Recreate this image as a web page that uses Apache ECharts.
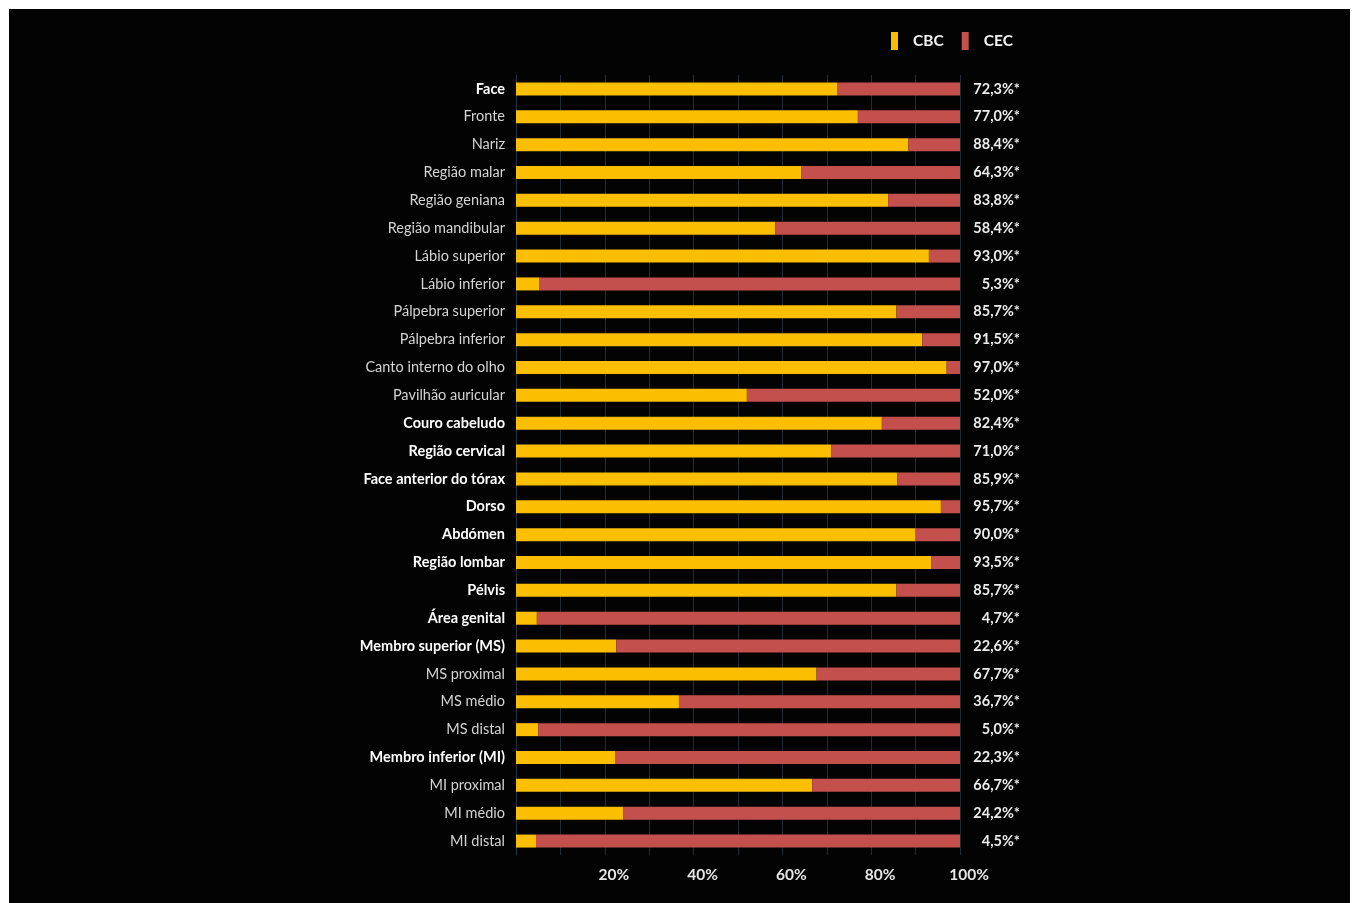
<!DOCTYPE html>
<html>
<head>
<meta charset="utf-8">
<script src="https://cdn.jsdelivr.net/npm/echarts@6/dist/echarts.min.js"></script>
<style>
  html, body { margin: 0; padding: 0; background: #fff; }
  #chart { width: 1360px; height: 903px; }
</style>
</head>
<body>
<div id="chart"></div>
<script>
const regions = [
  'Face', 'Fronte', 'Nariz', 'Região malar', 'Região geniana', 'Região mandibular',
  'Lábio superior', 'Lábio inferior', 'Pálpebra superior', 'Pálpebra inferior',
  'Canto interno do olho', 'Pavilhão auricular', 'Couro cabeludo', 'Região cervical',
  'Face anterior do tórax', 'Dorso', 'Abdómen', 'Região lombar', 'Pélvis', 'Área genital',
  'Membro superior (MS)', 'MS proximal', 'MS médio', 'MS distal',
  'Membro inferior (MI)', 'MI proximal', 'MI médio', 'MI distal'
];
// rows written in bold in the original
const boldRegions = [
  'Face', 'Couro cabeludo', 'Região cervical', 'Face anterior do tórax', 'Dorso',
  'Abdómen', 'Região lombar', 'Pélvis', 'Área genital',
  'Membro superior (MS)', 'Membro inferior (MI)'
];
const cbc = [72.3, 77.0, 88.4, 64.3, 83.8, 58.4, 93.0, 5.3, 85.7, 91.5, 97.0, 52.0, 82.4, 71.0,
  85.9, 95.7, 90.0, 93.5, 85.7, 4.7, 22.6, 67.7, 36.7, 5.0, 22.3, 66.7, 24.2, 4.5];
const cec = [27.7, 23.0, 11.6, 35.7, 16.2, 41.6, 7.0, 94.7, 14.3, 8.5, 3.0, 48.0, 17.6, 29.0,
  14.1, 4.3, 10.0, 6.5, 14.3, 95.3, 77.4, 32.3, 63.3, 95.0, 77.7, 33.3, 75.8, 95.5];
const cbcLabels = ['72,3%*', '77,0%*', '88,4%*', '64,3%*', '83,8%*', '58,4%*', '93,0%*', '5,3%*',
  '85,7%*', '91,5%*', '97,0%*', '52,0%*', '82,4%*', '71,0%*', '85,9%*', '95,7%*', '90,0%*',
  '93,5%*', '85,7%*', '4,7%*', '22,6%*', '67,7%*', '36,7%*', '5,0%*', '22,3%*', '66,7%*',
  '24,2%*', '4,5%*'];
const xTicks = [20, 40, 60, 80, 100];

const FONT = 'Lato, "Open Sans", sans-serif';

const chart = echarts.init(document.getElementById('chart'), null, { renderer: 'canvas' });

const option = {
  backgroundColor: '#ffffff',
  animation: false,
  graphic: [{
    type: 'rect',
    z: -10,
    shape: { x: 9, y: 9, width: 1341, height: 894 },
    style: { fill: '#030303' }
  }],
  legend: {
    left: 886,
    top: 27,
    itemWidth: 7,
    itemHeight: 18,
    itemGap: 18,
    icon: 'rect',
    textStyle: {
      color: '#f2f2f2', fontFamily: FONT, fontWeight: 'bold', fontSize: 15.5,
      padding: [0, 0, 0, 10]
    },
    data: ['CBC', 'CEC']
  },
  grid: {
    left: 516,
    width: 444,
    top: 75,
    bottom: 903 - 855,
    containLabel: false
  },
  xAxis: {
    type: 'value',
    min: 0,
    max: 100,
    interval: 10,
    axisLine: { show: false },
    axisTick: { show: false },
    splitLine: { show: true, lineStyle: { color: '#252b35', width: 1 } },
    axisLabel: {
      color: '#e6e6e6',
      fontFamily: FONT,
      fontWeight: 'bold',
      fontSize: 15.5,
      margin: 12,
      padding: [0, 0, 0, 18],
      formatter: function (v) {
        return xTicks.indexOf(v) >= 0 ? v + '%' : '';
      }
    }
  },
  yAxis: {
    type: 'category',
    inverse: true,
    data: regions,
    axisLine: { show: true, lineStyle: { color: '#2a3544' } },
    axisTick: { show: false },
    axisLabel: {
      margin: 11,
      formatter: function (v) {
        return boldRegions.indexOf(v) >= 0 ? '{b|' + v + '}' : '{n|' + v + '}';
      },
      rich: {
        b: { color: '#ffffff', fontFamily: FONT, fontWeight: 'bold', fontSize: 14.5 },
        n: { color: '#d4d4d4', fontFamily: FONT, fontSize: 14.5 }
      }
    }
  },
  series: [
    {
      name: 'CBC',
      type: 'bar',
      stack: 'total',
      barWidth: 13,
      itemStyle: { color: '#fbbe00' },
      data: cbc
    },
    {
      name: 'CEC',
      type: 'bar',
      stack: 'total',
      barWidth: 13,
      itemStyle: { color: '#c4504d' },
      label: {
        show: true,
        position: 'right',
        distance: 60,
        align: 'right',
        color: '#ececec',
        fontFamily: FONT,
        fontWeight: 'bold',
        fontSize: 14.5,
        formatter: function (p) { return cbcLabels[p.dataIndex]; }
      },
      data: cec
    }
  ]
};

chart.setOption(option);
</script>
</body>
</html>
